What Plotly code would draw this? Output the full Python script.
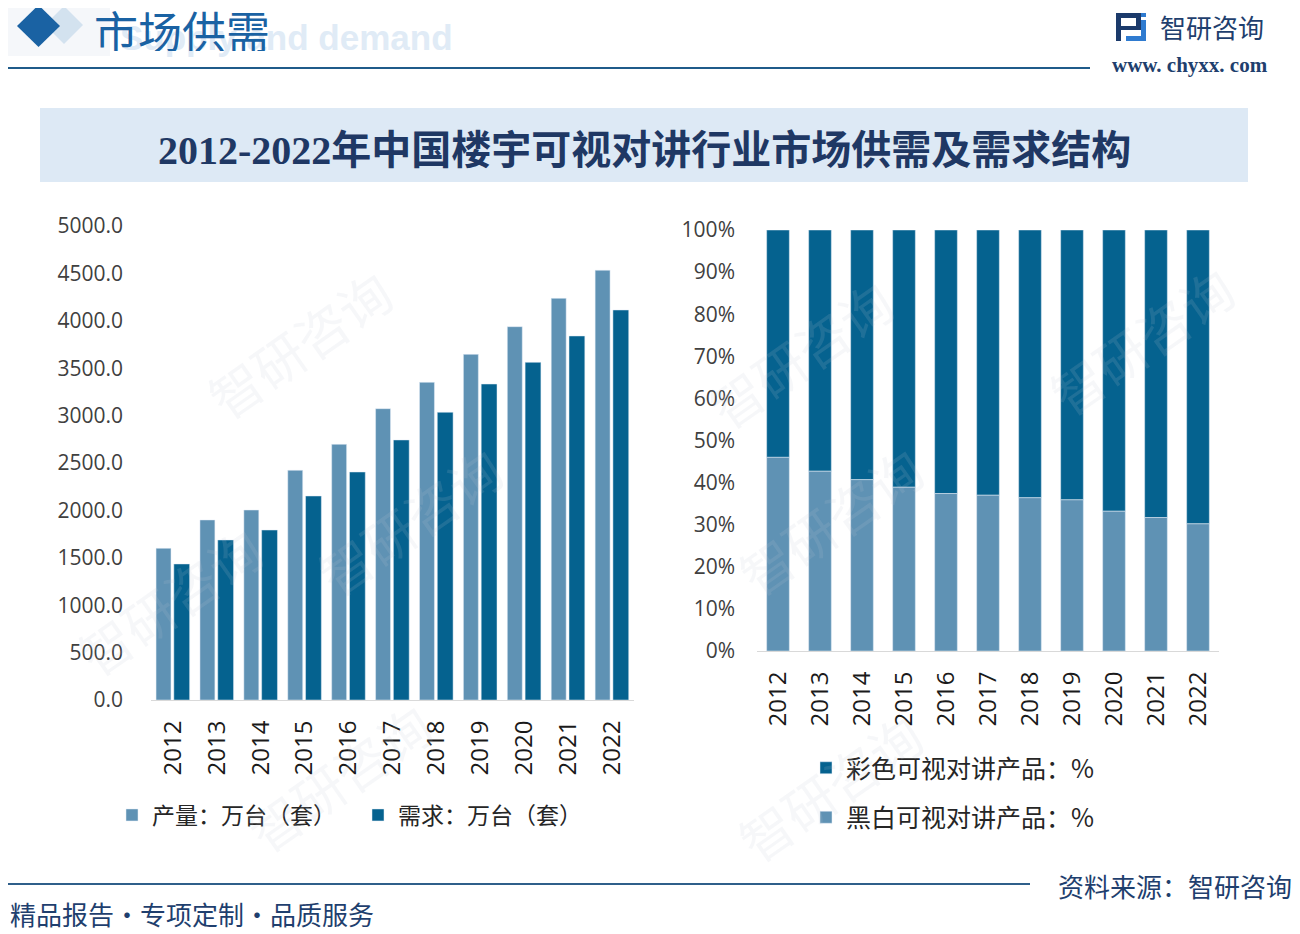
import plotly.graph_objects as go

# page body has an 8px margin, so the figure is drawn 8px smaller and shifted
OFF = 8
W, H = 1300 - OFF, 934 - OFF

years = ["2012", "2013", "2014", "2015", "2016", "2017", "2018", "2019", "2020", "2021", "2022"]
production = [1600, 1899, 2004, 2423, 2697, 3073, 3351, 3646, 3938, 4237, 4533]
demand = [1435, 1688, 1793, 2152, 2405, 2743, 3035, 3333, 3562, 3840, 4114]
bw_share = [0.460, 0.427, 0.407, 0.389, 0.374, 0.370, 0.364, 0.359, 0.332, 0.317, 0.302]
color_share = [1 - v for v in bw_share]

title_text = "2012-2022年中国楼宇可视对讲行业市场供需及需求结构"
left_names = ["产量：万台（套）", "需求：万台（套）"]
right_names = ["彩色可视对讲产品：%", "黑白可视对讲产品：%"]

C_LIGHT = "#5f92b4"
C_DARK = "#05628f"
FONT = "Noto Sans CJK SC"
NUM = "Open Sans, Noto Sans CJK SC"


def px(x):
    return (x - OFF) / W


def py(y):
    return 1 - (y - OFF) / H


fig = go.Figure()

fig.add_trace(go.Bar(x=years, y=production, name=left_names[0], marker_color=C_LIGHT,
                     width=0.34, offset=-0.385, xaxis="x", yaxis="y", legend="legend"))
fig.add_trace(go.Bar(x=years, y=demand, name=left_names[1], marker_color=C_DARK,
                     width=0.36, offset=0.02, xaxis="x", yaxis="y", legend="legend"))

fig.add_trace(go.Bar(x=years, y=color_share, name=right_names[0], marker_color=C_DARK,
                     width=0.54, offset=-0.27, base=bw_share, legendgroup="col",
                     xaxis="x2", yaxis="y2", legend="legend2"))
fig.add_trace(go.Bar(x=years, y=bw_share, name=right_names[1], marker_color=C_LIGHT,
                     width=0.54, offset=-0.27, base=[0] * len(years), legendgroup="bw",
                     xaxis="x2", yaxis="y2", legend="legend2"))

shapes = []
annotations = []

# watermarks
for (wx, wy) in [(190, 250), (300, 520), (230, 870), (800, 260), (830, 520), (830, 880), (1250, 340), (60, 600)]:
    annotations.append(dict(x=px(wx), y=py(wy), xref="paper", yref="paper", text="智研咨询",
                            showarrow=False, textangle=-35,
                            font=dict(family=FONT, size=52, color="rgba(190,200,212,0.14)")))

# header decoration
shapes.append(dict(type="rect", xref="paper", yref="paper", x0=px(8), x1=px(110), y0=py(8), y1=py(56),
                   fillcolor="#f5f7fa", line=dict(width=0), layer="below"))
shapes.append(dict(type="path", xref="paper", yref="paper",
                   path=f"M {px(64)},{py(6)} L {px(83)},{py(25)} L {px(64)},{py(44)} L {px(45)},{py(25)} Z",
                   fillcolor="#d3e2ef", line=dict(width=0), layer="below"))
shapes.append(dict(type="path", xref="paper", yref="paper",
                   path=f"M {px(38.5)},{py(5)} L {px(60)},{py(26)} L {px(38.5)},{py(47)} L {px(17)},{py(26)} Z",
                   fillcolor="#1a62a3", line=dict(width=0)))
annotations.append(dict(x=px(455), y=py(37), xref="paper", yref="paper", xanchor="right", yanchor="middle",
                        text="<b>Supply and demand</b>", showarrow=False,
                        font=dict(family="Liberation Sans", size=35, color="#e0ebf6")))
annotations.append(dict(x=px(92), y=py(30), xref="paper", yref="paper", xanchor="left", yanchor="middle",
                        text="市场供需", showarrow=False, height=42, valign="middle",
                        font=dict(family=FONT, size=44, color="#1a62a3")))
shapes.append(dict(type="line", xref="paper", yref="paper", x0=px(8), x1=px(1090), y0=py(68), y1=py(68),
                   line=dict(color="#1f5b8a", width=2)))

# logo
for (x0, y0, x1, y1, c) in [(1116, 13, 1141, 18, "#1b3a6b"), (1136, 13, 1141, 30, "#1b3a6b"),
                            (1116, 26, 1141, 30, "#1b3a6b"), (1116, 13, 1121, 41, "#1b3a6b"),
                            (1126, 36, 1146, 41, "#2f7bd0"), (1141, 20, 1146, 41, "#2f7bd0"),
                            (1141, 13, 1146, 17, "#2f7bd0")]:
    shapes.append(dict(type="rect", xref="paper", yref="paper", x0=px(x0), x1=px(x1), y0=py(y0), y1=py(y1),
                       fillcolor=c, line=dict(width=0)))
annotations.append(dict(x=px(1158), y=py(27), xref="paper", yref="paper", xanchor="left", yanchor="middle",
                        text="智研咨询", showarrow=False,
                        font=dict(family=FONT, size=26, color="#1f3f6e")))
annotations.append(dict(x=px(1110), y=py(65), xref="paper", yref="paper", xanchor="left", yanchor="middle",
                        text="<b>www. chyxx. com</b>", showarrow=False,
                        font=dict(family="Liberation Serif", size=21, color="#1f3f6e")))

# title band
shapes.append(dict(type="rect", xref="paper", yref="paper", x0=px(40), x1=px(1248), y0=py(108), y1=py(182),
                   fillcolor="#dde9f5", line=dict(width=0), layer="below"))
annotations.append(dict(x=px(644), y=py(150), xref="paper", yref="paper", xanchor="center", yanchor="middle",
                        text="<b>" + title_text + "</b>", showarrow=False,
                        font=dict(family="Liberation Serif, Noto Sans CJK SC", size=40, color="#1f3864")))

# footer
shapes.append(dict(type="line", xref="paper", yref="paper", x0=px(8), x1=px(1030), y0=py(884), y1=py(884),
                   line=dict(color="#2f5f8a", width=2)))
annotations.append(dict(x=px(1294), y=py(885), xref="paper", yref="paper", xanchor="right", yanchor="middle",
                        text="资料来源：智研咨询", showarrow=False,
                        font=dict(family=FONT, size=26, color="#1f3f6e")))
annotations.append(dict(x=px(8), y=py(913), xref="paper", yref="paper", xanchor="left", yanchor="middle",
                        text="精品报告·专项定制·品质服务", showarrow=False,
                        font=dict(family=FONT, size=26, color="#1f3f6e")))

tick_y = dict(family=NUM, size=21, color="#404040")
tick_x = dict(family=NUM, size=24, color="#1a1a1a")

fig.update_layout(
    width=W, height=H,
    margin=dict(l=0, r=0, t=0, b=0, autoexpand=False),
    paper_bgcolor="white", plot_bgcolor="rgba(0,0,0,0)",
    barmode="overlay",
    font=dict(family=FONT),
    shapes=shapes, annotations=annotations,
    xaxis=dict(domain=[px(151), px(634)], type="category", tickangle=-90, tickfont=tick_x,
               showline=True, linecolor="#d9d9d9", linewidth=1, ticks="", ticklabelstandoff=10,
               anchor="y"),
    yaxis=dict(domain=[py(700), py(226)], range=[0, 5000], dtick=500, tickformat=".1f",
               tickfont=tick_y, showgrid=False, zeroline=False, ticklabelstandoff=27, anchor="x"),
    xaxis2=dict(domain=[px(757), px(1219)], type="category", tickangle=-90, tickfont=tick_x,
                showline=True, linecolor="#d9d9d9", linewidth=1, ticks="", ticklabelstandoff=10,
                anchor="y2"),
    yaxis2=dict(domain=[py(651), py(230)], range=[0, 1], dtick=0.1, tickformat=".0%",
                tickfont=tick_y, showgrid=False, zeroline=False, ticklabelstandoff=21, anchor="x2"),
    legend=dict(orientation="h", x=px(112), y=py(815), xanchor="left", yanchor="middle",
                font=dict(family=FONT, size=23, color="#262626"), entrywidth=201,
                bgcolor="rgba(0,0,0,0)", itemclick=False),
    legend2=dict(orientation="v", x=px(806), y=py(745), xanchor="left", yanchor="top",
                 font=dict(family=FONT, size=25, color="#262626"), traceorder="grouped",
                 tracegroupgap=14, itemwidth=30,
                 bgcolor="rgba(0,0,0,0)", itemclick=False),
    showlegend=True,
)

fig.write_html("out.html")
